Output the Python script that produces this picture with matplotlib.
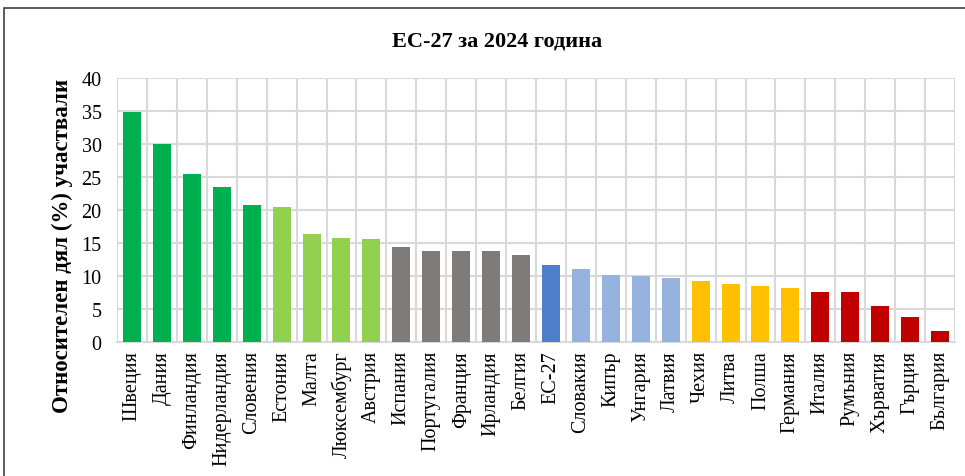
import numpy as np
import matplotlib.pyplot as plt
from matplotlib.patches import Rectangle

plt.rcParams['font.family'] = ['Liberation Serif', 'DejaVu Serif']

# данни
countries = ['Швеция', 'Дания', 'Финландия', 'Нидерландия', 'Словения',
             'Естония', 'Малта', 'Люксембург', 'Австрия',
             'Испания', 'Португалия', 'Франция', 'Ирландия', 'Белгия',
             'ЕС-27',
             'Словакия', 'Кипър', 'Унгария', 'Латвия',
             'Чехия', 'Литва', 'Полша', 'Германия',
             'Италия', 'Румъния', 'Хърватия', 'Гърция', 'България']
values = [34.8, 30.0, 25.4, 23.5, 20.8,
          20.4, 16.4, 15.8, 15.6,
          14.4, 13.8, 13.8, 13.7, 13.2,
          11.6,
          11.0, 10.1, 10.0, 9.6,
          9.2, 8.7, 8.5, 8.2,
          7.5, 7.5, 5.4, 3.7, 1.6]
groups = ['dg'] * 5 + ['lg'] * 4 + ['gr'] * 5 + ['eu'] + ['lb'] * 4 + ['ye'] * 4 + ['rd'] * 5

palette = {'dg': '#00B050', 'lg': '#92D050', 'gr': '#7F7B78', 'eu': '#4F7FCA',
           'lb': '#95B3DE', 'ye': '#FFC000', 'rd': '#C00000'}

fig = plt.figure(figsize=(9.65, 4.77), dpi=100)
ax = fig.add_axes([117 / 965, 1 - 342.7 / 477, (955 - 117) / 965, (342.7 - 79) / 477])

x = np.arange(len(countries))
ax.bar(x, values, width=0.6, color=[palette[g] for g in groups], zorder=3)

ax.set_xlim(-0.5, len(countries) - 0.5)
ax.set_ylim(0, 40)
ax.set_yticks(range(0, 41, 5))
ax.set_xticks(x)
ax.set_xticklabels(countries, rotation=90, fontsize=14.5)
ax.tick_params(axis='y', labelsize=14.5, length=0, pad=11)
ax.tick_params(axis='x', length=0, pad=6)

# линии на решетката
for yv in range(5, 41, 5):
    ax.axhline(yv, color='#D9D9D9', lw=1.5, zorder=1)
for xv in np.arange(-0.5, len(countries), 1.0):
    ax.axvline(xv, color='#D9D9D9', lw=1.5, zorder=1)
for s in ['top', 'right', 'left']:
    ax.spines[s].set_visible(False)
ax.spines['bottom'].set_color('#D9D9D9')
ax.spines['bottom'].set_linewidth(1.5)

fig.text(497 / 965, 1 - 41 / 477, 'ЕС-27 за 2024 година', ha='center', va='center',
         fontsize=16, fontweight='bold')
fig.text(62 / 965, 1 - 246 / 477, 'Относителен дял (%) участвали', rotation=90,
         ha='center', va='center', fontsize=16.5, fontweight='bold')

# рамка около диаграмата
fig.patches.append(Rectangle((4 / 965, -0.1), 1.1, 1 - 9 / 477 + 0.1, transform=fig.transFigure,
                             fill=False, edgecolor='#404040', lw=1.2))

fig.savefig('out.png', dpi=100)
